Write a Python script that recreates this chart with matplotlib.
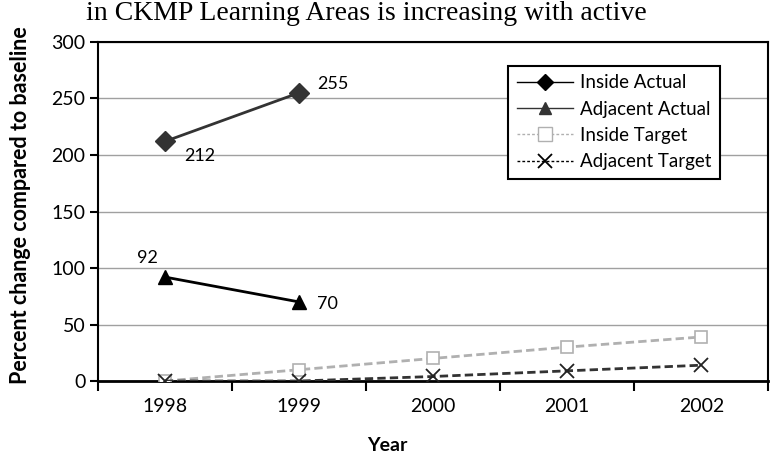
import matplotlib
matplotlib.use("Agg")
import matplotlib.pyplot as plt
from matplotlib.lines import Line2D

years = ["1998", "1999", "2000", "2001", "2002"]
inside_actual = [212, 255]
adjacent_actual = [92, 70]
inside_target = [0, 10, 20, 30, 39]
adjacent_target = [0, 0, 4, 9, 14]

plt.rcParams["font.family"] = ["Lato", "DejaVu Sans"]

fig = plt.figure(figsize=(7.7, 4.55), dpi=100)
ax = fig.add_axes([0.127, 0.1626, 0.871, 0.7451])

x = list(range(len(years)))

# targets first so actual lines sit on top
ax.plot(x, inside_target, color="#b0b0b0", linestyle=(0, (3, 1.5)), linewidth=2,
        marker="s", markersize=9, markerfacecolor="white", markeredgecolor="#b0b0b0",
        markeredgewidth=1.2, zorder=3)
ax.plot(x, adjacent_target, color="#333333", linestyle=(0, (3, 1.5)), linewidth=2,
        marker="x", markersize=10, markeredgecolor="#222222", markeredgewidth=1.3,
        zorder=4)
ax.plot(x[:2], inside_actual, color="#333333", linewidth=2, marker="D",
        markersize=10, zorder=5)
ax.plot(x[:2], adjacent_actual, color="black", linewidth=2, marker="^",
        markersize=10, zorder=5)

# data labels
ax.annotate(str(inside_actual[0]), (x[0], inside_actual[0]), xytext=(14, -14),
            textcoords="offset points", fontsize=13)
ax.annotate(str(inside_actual[1]), (x[1], inside_actual[1]), xytext=(13, 3),
            textcoords="offset points", fontsize=13)
ax.annotate(str(adjacent_actual[0]), (x[0], adjacent_actual[0]), xytext=(-20, 10),
            textcoords="offset points", fontsize=13)
ax.annotate(str(adjacent_actual[1]), (x[1], adjacent_actual[1]), xytext=(13, -5),
            textcoords="offset points", fontsize=13)

ax.set_xlim(-0.5, len(years) - 0.5)
ax.set_ylim(0, 300)
ax.set_yticks(range(0, 301, 50))
ax.set_xticks([i - 0.5 for i in range(len(years) + 1)])
ax.set_xticklabels([])
ax.set_xticks(x, minor=True)
ax.set_xticklabels(years, minor=True, fontsize=14)
ax.tick_params(axis="x", which="major", direction="out", length=7, width=1.5)
ax.tick_params(axis="x", which="minor", length=0, pad=12)
ax.tick_params(axis="y", direction="out", length=6, width=1.5, labelsize=14, pad=3)

ax.grid(axis="y", color="#a0a0a0", linewidth=1)
ax.set_axisbelow(True)
for side in ["left", "bottom", "top", "right"]:
    ax.spines[side].set_linewidth(1.5)
    ax.spines[side].set_color("black")
ax.spines["bottom"].set_linewidth(2)

ax.set_ylabel("Percent change compared to baseline", fontsize=15.5, fontweight="bold")
ax.yaxis.set_label_coords(-0.10, 0.52)
# "Year" sits centred on the whole figure, near the bottom edge
ax.set_xlabel("Year", fontsize=14, fontweight="bold")
ax.xaxis.set_label_coords(0.431, -0.165)

# legend with thin handle lines like the original
handles = [
    Line2D([], [], color="black", linewidth=1, marker="D", markersize=8),
    Line2D([], [], color="#333333", linewidth=1, marker="^", markersize=9),
    Line2D([], [], color="#b0b0b0", linewidth=1, linestyle=(0, (2, 1.5)), marker="s",
           markersize=10, markerfacecolor="white", markeredgecolor="#b0b0b0"),
    Line2D([], [], color="black", linewidth=1, linestyle=(0, (2, 1.5)), marker="x",
           markersize=10, markeredgewidth=1.3),
]
labels = ["Inside Actual", "Adjacent Actual", "Inside Target", "Adjacent Target"]
leg = ax.legend(handles, labels, loc="upper left", bbox_to_anchor=(0.612, 0.93),
                fontsize=13.5, frameon=True, fancybox=False, framealpha=1,
                edgecolor="black", handlelength=3, borderpad=0.45, labelspacing=0.5,
                handletextpad=0.4, borderaxespad=0)
leg.get_frame().set_linewidth(1.5)

# heading text from the surrounding page
fig.text(0.112, 0.998, "in CKMP Learning Areas is increasing with active",
         family="Liberation Serif", fontsize=20, va="top", ha="left")

fig.savefig("out.png", dpi=100)
